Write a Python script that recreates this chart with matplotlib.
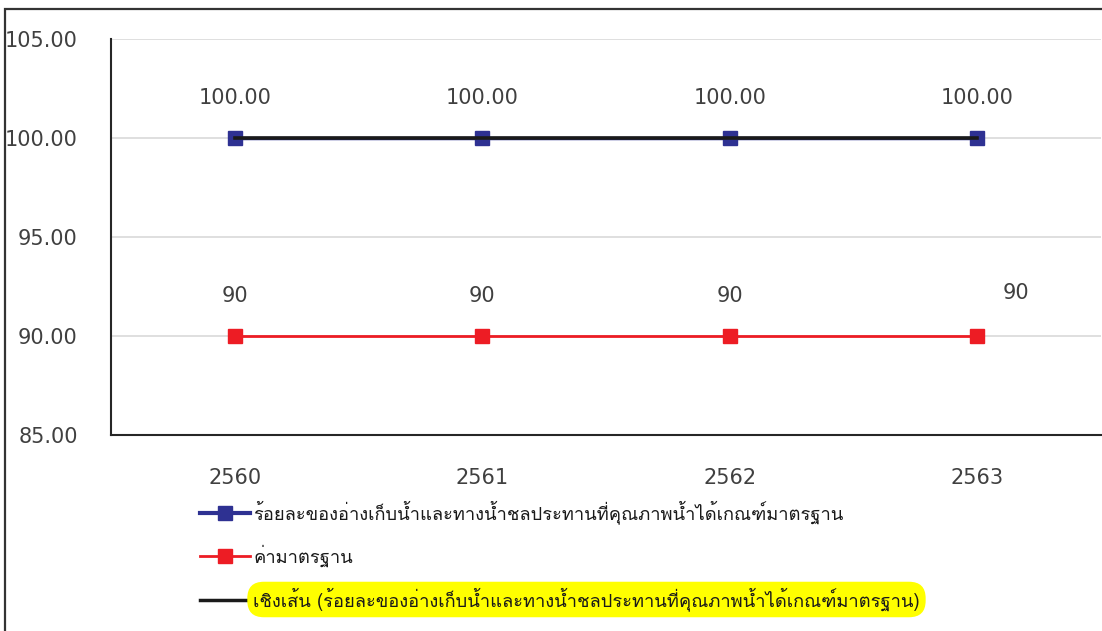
import numpy as np
import matplotlib
matplotlib.use("Agg")
import matplotlib.pyplot as plt
from matplotlib import font_manager
from matplotlib.ft2font import FT2Font
from matplotlib.lines import Line2D
from matplotlib.patches import Rectangle

# ---- data -------------------------------------------------------------
years = ["2560", "2561", "2562", "2563"]
quality_pct = [100.00, 100.00, 100.00, 100.00]
standard_val = [90, 90, 90, 90]
yticks = [85, 90, 95, 100, 105]

name_quality = "ร้อยละของอ่างเก็บน้ำและทางน้ำชลประทานที่คุณภาพน้ำได้เกณฑ์มาตรฐาน"
name_standard = "ค่ามาตรฐาน"
name_trend = "เชิงเส้น (ร้อยละของอ่างเก็บน้ำและทางน้ำชลประทานที่คุณภาพน้ำได้เกณฑ์มาตรฐาน)"

NAVY = "#2e3192"
RED = "#ed1c24"
DARK = "#262626"


def thai_family():
    """Return the name of an installed family that covers Thai script."""
    sample = "ร้อยละน้ำ"
    for f in font_manager.fontManager.ttflist:
        try:
            cmap = FT2Font(f.fname).get_charmap()
        except Exception:
            continue
        if all(ord(c) in cmap for c in sample):
            return f.name
    return None


thai = thai_family()
families = ([thai] if thai else []) + ["DejaVu Sans"]
plt.rcParams["font.family"] = families

W, H, DPI = 1102, 631, 100
fig = plt.figure(figsize=(W / DPI, H / DPI), dpi=DPI)
ax = fig.add_axes([111 / W, 1 - 435 / H, (1101 - 111) / W, (435 - 39) / H])

x = np.arange(len(years))

# series
ax.plot(x, quality_pct, color=NAVY, lw=2.5, marker="s", ms=10,
        mfc=NAVY, mec=NAVY, zorder=3)
ax.plot(x, standard_val, color=RED, lw=2, marker="s", ms=10,
        mfc=RED, mec=RED, zorder=3)

# linear trend of the quality series
coef = np.polyfit(x, quality_pct, 1)
ax.plot(x, np.polyval(coef, x), color="#1a1a1a", lw=2.6, zorder=4)

# data labels
label_font = 15
for xi, v in zip(x, quality_pct):
    ax.annotate(f"{v:.2f}", (xi, v), xytext=(0, 40), textcoords="offset pixels",
                ha="center", va="center", fontsize=label_font, color="#404040",
                family="DejaVu Sans")
for i, (xi, v) in enumerate(zip(x, standard_val)):
    off = (39, 43) if i == len(x) - 1 else (0, 40)
    ax.annotate(f"{v}", (xi, v), xytext=off, textcoords="offset pixels",
                ha="center", va="center", fontsize=label_font, color="#404040",
                family="DejaVu Sans")

# axes styling
ax.set_xlim(-0.5, len(years) - 0.5)
ax.set_ylim(85, 105)
ax.set_yticks(yticks)
ax.set_yticklabels([f"{t:.2f}" for t in yticks], family="DejaVu Sans")
ax.set_xticks(x)
ax.set_xticklabels(years, family="DejaVu Sans")
ax.tick_params(axis="both", length=0, labelsize=label_font, colors="#404040")
ax.tick_params(axis="y", pad=24)
ax.tick_params(axis="x", pad=24)
ax.grid(axis="y", color="#d9d9d9", lw=1.2)
ax.set_axisbelow(True)
for side in ("top", "right"):
    ax.spines[side].set_visible(False)
for side in ("left", "bottom"):
    ax.spines[side].set_color(DARK)
    ax.spines[side].set_linewidth(1.5)

# legend
handles = [
    Line2D([], [], color=NAVY, lw=3, marker="s", ms=10),
    Line2D([], [], color=RED, lw=2, marker="s", ms=10),
    Line2D([], [], color="#1a1a1a", lw=2.5),
]
leg = fig.legend(handles, [name_quality, name_standard, name_trend],
                 loc="upper left", bbox_to_anchor=(200 / W, 1 - 500 / H),
                 frameon=False, borderpad=0, borderaxespad=0,
                 handlelength=2.7, handletextpad=0.2, labelspacing=1.13,
                 fontsize=13.2)
for t in leg.get_texts():
    t.set_color("#1a1a1a")
leg.get_texts()[2].set_bbox(dict(boxstyle="round,pad=0.32,rounding_size=0.9",
                                 fc="#ffff00", ec="none"))

# outer frame (left and top edges)
fig.add_artist(Rectangle((5 / W, -0.1), 1.2, 1.1 - 9 / H,
                         transform=fig.transFigure, fill=False,
                         ec="#333333", lw=1.6, clip_on=False))

fig.savefig("out.png", dpi=DPI)
